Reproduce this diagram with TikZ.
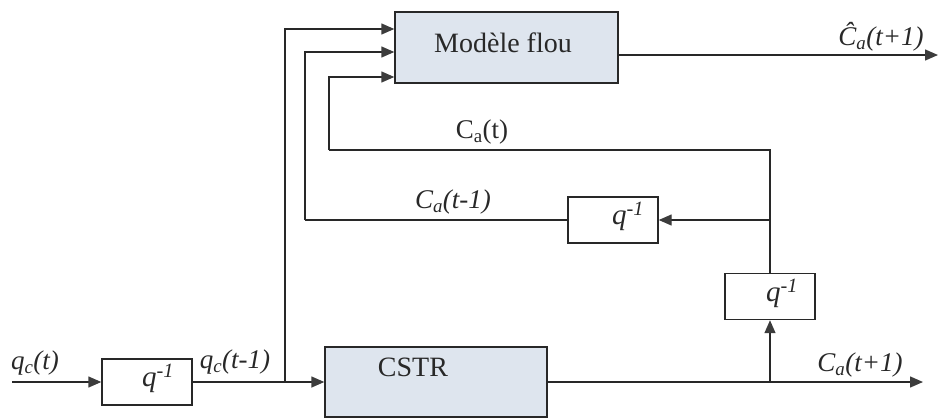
\documentclass[tikz,border=0pt]{standalone}
\usepackage{fontspec}
\setmainfont{Liberation Serif}
\usetikzlibrary{arrows.meta}
\definecolor{boxfill}{RGB}{222,229,238}
\definecolor{ink}{RGB}{40,40,40}
\definecolor{tipgray}{RGB}{60,60,60}
\begin{document}
\begin{tikzpicture}[x=1pt,y=-1pt,
  wire/.style={line width=1.4pt,draw=ink},
  flow/.style={wire,-{Triangle[length=13pt,width=11pt,fill=tipgray,color=tipgray]}},
  block/.style={draw=ink,line width=1.4pt,fill=boxfill,inner sep=0pt},
  delaybox/.style={draw=ink,line width=1.4pt,fill=white,inner sep=0pt,
    minimum width=90pt,minimum height=46pt},
  lbl/.style={font=\fontsize{27}{31}\selectfont,inner sep=0pt,text=ink},
  big/.style={font=\fontsize{28}{32}\selectfont,inner sep=0pt,text=ink},
  qlbl/.style={font=\fontsize{29}{33}\selectfont\itshape,inner sep=0pt,text=ink}]
\useasboundingbox (0,0) rectangle (938,418);

% blocks
\node[block,minimum width=223pt,minimum height=71pt] (fuzzy) at (506.5,47.5) {};
\node[big] (fuzzytxt) at (503,43) {Modèle flou};
\node[block,minimum width=222pt,minimum height=70pt] (cstr) at (436,382) {};
\node[big] (cstrtxt) at (413,367) {CSTR};

% unit delays
\node[delaybox] (d1) at (147,382) {};
\node[qlbl] (q1) at (158,378) {q\textsuperscript{-1}};
\node[delaybox] (d2) at (613,220) {};
\node[qlbl] (q2) at (628,216) {q\textsuperscript{-1}};
\node[delaybox] (d3) at (770,296.5) {};
\node[qlbl] (q3) at (782,293) {q\textsuperscript{-1}};

% wiring points
\coordinate (src) at (12,382);
\coordinate (tap) at (285,382);
\coordinate (meas) at (770,382);
\coordinate (sink) at (923,382);
\coordinate (fb) at (770,150);
\coordinate (fbl) at (329,150);
\coordinate (split) at (770,220);
\coordinate (dl) at (305,220);
\coordinate (yhat) at (938,55);

% connectors
\draw[flow] (src) -- (d1);
\draw[flow] (d1) -- (cstr);
\draw[flow] (tap) |- ([yshift=18.5pt]fuzzy.west);
\draw[wire] (d2.west) -- (dl);
\draw[flow] (dl) |- ([yshift=-4.5pt]fuzzy.west);
\draw[wire] (d3.north) -- (fb) -- (fbl);
\draw[flow] (fbl) |- ([yshift=-29.5pt]fuzzy.west);
\draw[flow] (split) -- (d2.east);
\draw[flow] (cstr.east) -- (sink);
\draw[flow] (meas) -- (d3.south);
\draw[flow] ([yshift=-7.5pt]fuzzy.east) -- (yhat);

% signal labels
\node[lbl] (lyhat) at (881,37) {\textit{Ĉ\textsubscript{a}(t+1)}};
\node[lbl] (lca) at (482,132) {C\textsubscript{a}(t)};
\node[lbl] (lcam) at (453,202) {\textit{C\textsubscript{a}(t-1)}};
\node[lbl] (lqc) at (35,363) {\textit{q\textsubscript{c}(t)}};
\node[lbl] (lqcm) at (235,362) {\textit{q\textsubscript{c}(t-1)}};
\node[lbl] (lcap) at (860,365) {\textit{C\textsubscript{a}(t+1)}};
\end{tikzpicture}
\end{document}
